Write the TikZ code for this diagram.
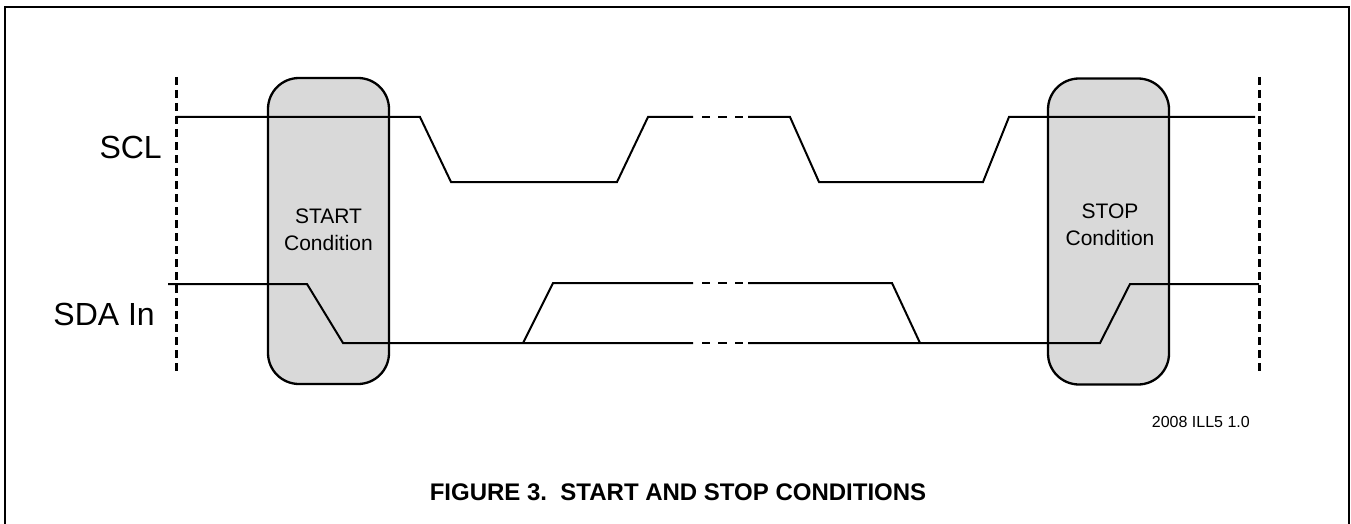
\documentclass[tikz,border=0pt]{standalone}
\usepackage{fontspec}
\setmainfont{Liberation Sans}
\definecolor{condgray}{HTML}{D9D9D9}
\tikzset{
  sig/.style={line width=2pt},
  guide/.style={line width=3pt, dash pattern=on 8pt off 5pt},
  condbox/.style={draw, line width=2.3pt, fill=condgray, rounded corners=31pt,
    minimum width=121pt, minimum height=306pt, inner sep=0pt},
  sigtxt/.style={font=\fontsize{32}{38}\selectfont, inner sep=0pt, anchor=base east},
  boxtxt/.style={font=\fontsize{21}{25}\selectfont, inner sep=0pt, anchor=base},
  frame/.style={line width=2pt}
}
\begin{document}
\begin{tikzpicture}[x=1pt,y=-1pt]
\useasboundingbox (0,0) rectangle (1351,524);
% outer frame
\draw[frame] (5,524) -- (5,7) -- (1349,7) -- (1349,524);
% condition boxes
\node[condbox] (start) at (328.5,231) {};
\node[condbox] (stop) at (1108.5,231.5) {};
% guides
\coordinate (gl1) at (176,77); \coordinate (gl2) at (176,373);
\coordinate (gr1) at (1259,77); \coordinate (gr2) at (1259,373);
\draw[guide] (gl1) -- (gl2);
\draw[guide] (gr1) -- (gr2);
% SCL
\draw[sig] (176,117) -- (420,117) -- (451,182) -- (617,182) -- (648,117) -- (693,117);
\draw[sig] (748,117) -- (790,117) -- (819,182) -- (983,182) -- (1009,117) -- (1255,117);
\foreach \y in {117,283,343}{
  \draw[sig] (702,\y) -- (710,\y);
  \draw[sig] (718,\y) -- (727,\y);
  \draw[sig] (735,\y) -- (743,\y);
}
% SDA
\draw[sig] (168,284) -- (307,284) -- (343,343) -- (693,343);
\draw[sig] (523,343) -- (553,283) -- (693,283);
\draw[sig] (748,283) -- (892,283) -- (920,343);
\draw[sig] (748,343) -- (1100,343) -- (1130,284) -- (1259,284);
% labels
\node[sigtxt] (scl) at (162,158) {SCL};
\node[sigtxt] (sda) at (155,325) {SDA In};
\node[boxtxt] (st1) at (328.5,223) {START};
\node[boxtxt] (st2) at (328.5,250) {Condition};
\node[boxtxt] (sp1) at (1110,218) {STOP};
\node[boxtxt] (sp2) at (1110,245) {Condition};
\node[font=\fontsize{16}{18}\selectfont, inner sep=0pt, anchor=base east] (ill) at (1250,427) {2008 ILL5 1.0};
\node[font=\bfseries\fontsize{24}{27}\selectfont, inner sep=0pt, anchor=base] (cap) at (678,500) {FIGURE 3.\ \ START AND STOP CONDITIONS};
\end{tikzpicture}
\end{document}
